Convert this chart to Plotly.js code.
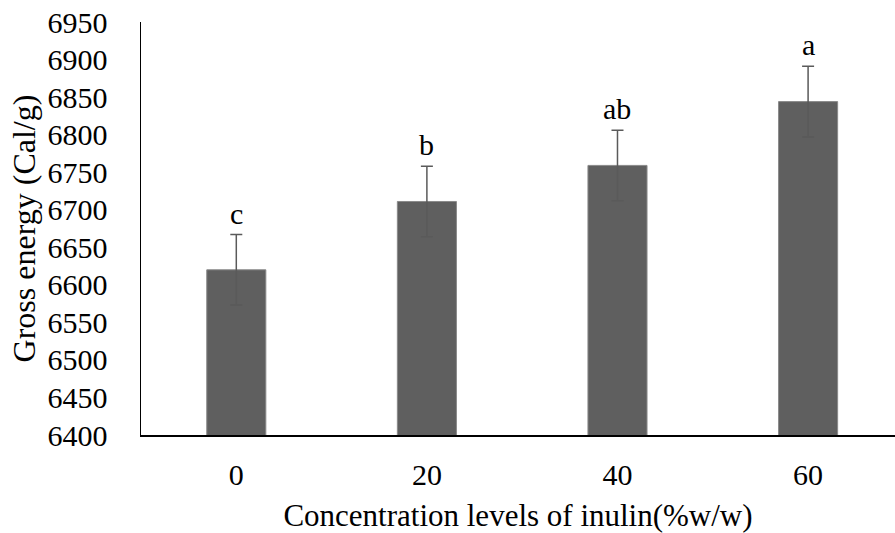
<!DOCTYPE html>
<html>
<head>
<meta charset="utf-8">
<script src="https://cdn.plot.ly/plotly-3.0.1.min.js"></script>
<style>
html,body{margin:0;padding:0;background:#fff;}
#chart{width:895px;height:533px;}
</style>
</head>
<body>
<div id="chart"></div>
<script>
const categories = ["0", "20", "40", "60"];
const grossEnergy = [6620, 6711, 6759, 6844];
const errors = [47, 47, 47, 47];
const letters = ["c", "b", "ab", "a"];
const yTicks = [6400, 6450, 6500, 6550, 6600, 6650, 6700, 6750, 6800, 6850, 6900, 6950];

const FONT = "Liberation Serif";

const trace = {
  type: "bar",
  x: categories,
  y: grossEnergy,
  marker: {color: "#5f5f5f", line: {color: "#8a8a8a", width: 1}},
  error_y: {type: "data", array: errors, visible: true, color: "#5a5a5a", thickness: 1.5, width: 6},
  hoverinfo: "skip"
};

const annotations = categories.map((c, i) => ({
  x: i, y: grossEnergy[i] + errors[i], xref: "x", yref: "y",
  text: letters[i], showarrow: false, yanchor: "bottom", yshift: 3,
  font: {family: FONT, size: 30, color: "#000"}
}));

const layout = {
  width: 895, height: 533,
  margin: {l: 141, r: 0, t: 22, b: 98},
  paper_bgcolor: "#fff", plot_bgcolor: "#fff",
  showlegend: false,
  bargap: 0.69,
  font: {family: FONT, size: 30, color: "#000"},
  xaxis: {
    type: "category",
    range: [-0.5, 3.456],
    showline: true, linecolor: "#000", linewidth: 2,
    ticks: "outside", ticklen: 12, tickcolor: "rgba(0,0,0,0)",
    showgrid: false, zeroline: false,
    tickfont: {family: FONT, size: 30, color: "#000", weight: "normal"},
    title: {text: "Concentration levels of inulin(%w/w)", font: {family: FONT, size: 31, color: "#000"}, standoff: 28}
  },
  yaxis: {
    range: [6400, 6950],
    tickvals: yTicks,
    ticktext: yTicks.map(String),
    showline: true, linecolor: "#000", linewidth: 1.5,
    ticks: "outside", ticklen: 26, tickcolor: "rgba(0,0,0,0)",
    showgrid: false, zeroline: false,
    tickfont: {family: FONT, size: 30, color: "#000", weight: "normal"},
    title: {text: "Gross energy (Cal/g)", font: {family: FONT, size: 32, color: "#000"}, standoff: 2}
  },
  annotations: annotations
};

Plotly.newPlot("chart", [trace], layout, {displayModeBar: false, staticPlot: true}).then(function () {
  document.querySelectorAll("#chart .xtick text, #chart .ytick text").forEach(function (t) {
    t.style.setProperty("font-family", "'Liberation Serif', serif", "important");
    t.style.setProperty("font-weight", "400", "important");
  });
});
</script>
</body>
</html>
